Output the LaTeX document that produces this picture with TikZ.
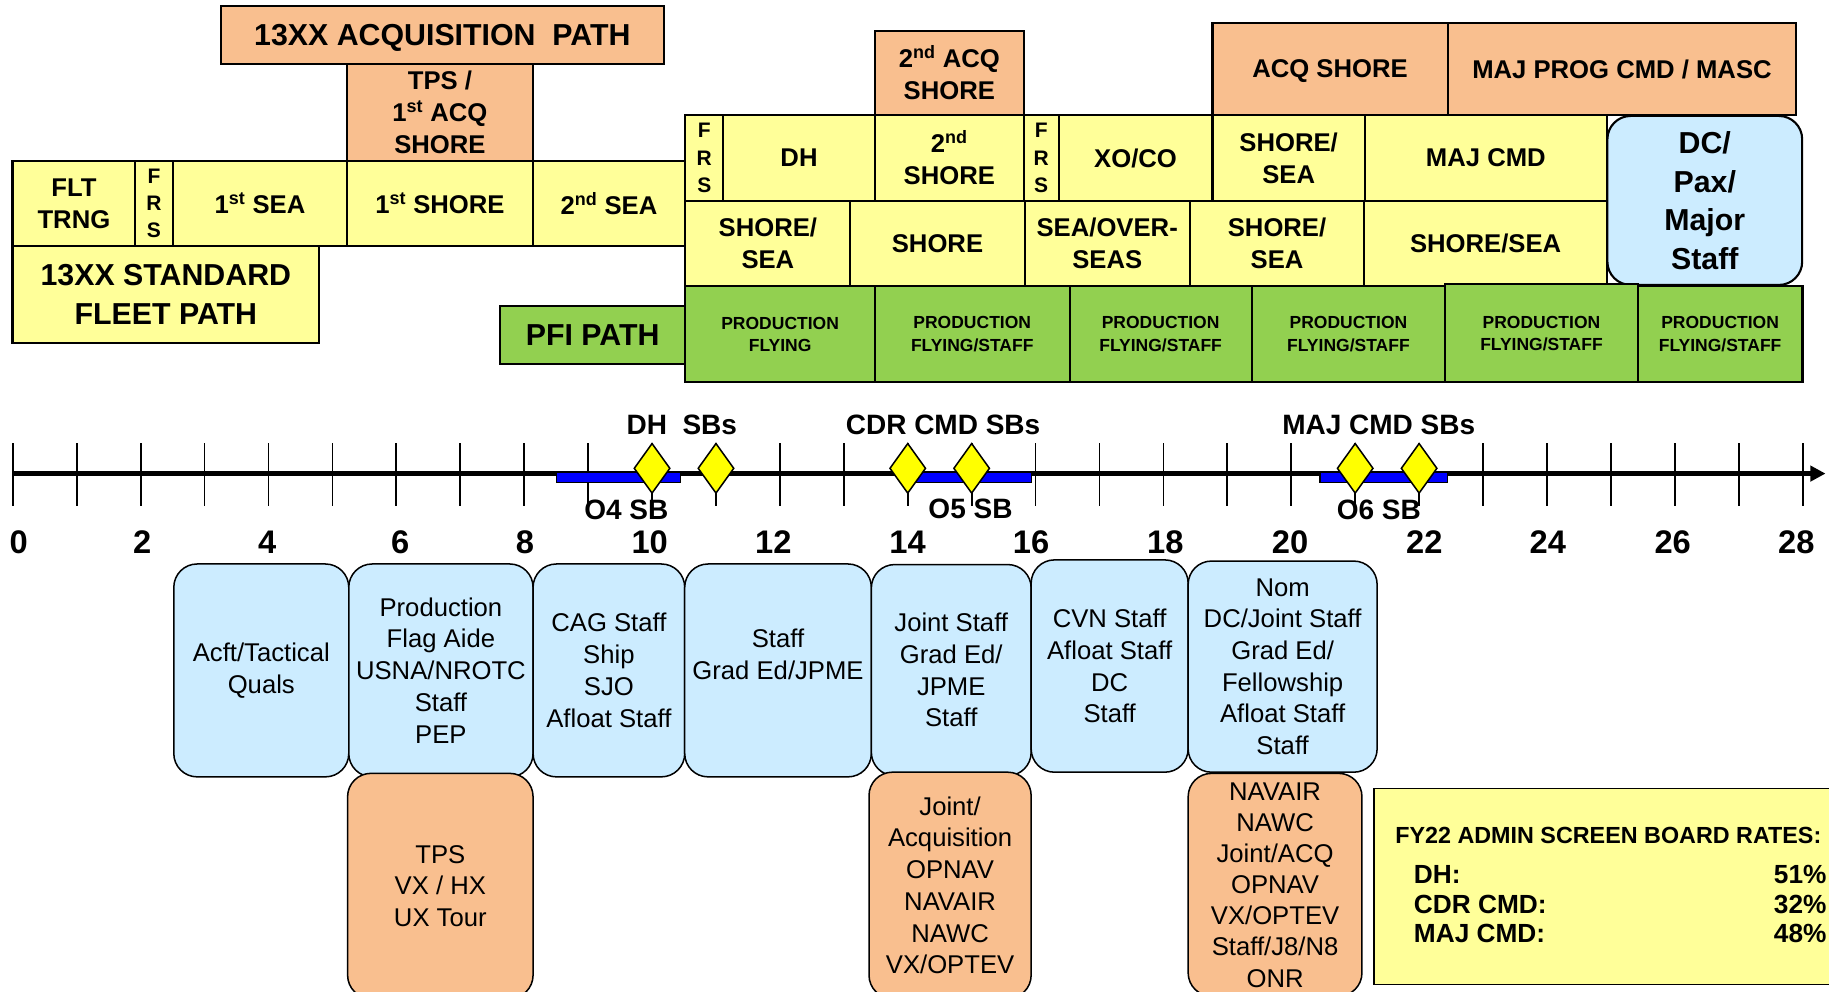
\documentclass[tikz,border=0pt]{standalone}
\usepackage{fontspec}
\setmainfont{Liberation Sans}
\usetikzlibrary{shapes.geometric,arrows.meta}
\definecolor{cyel}{HTML}{FFFF99}
\definecolor{corg}{HTML}{F9BF8F}
\definecolor{cgrn}{HTML}{92D050}
\definecolor{cblu}{HTML}{CCECFF}
\definecolor{cdia}{HTML}{FFFF00}
\definecolor{cbar}{HTML}{0000FF}
\newcommand\fs[2]{\fontsize{#1}{#2}\selectfont}
\newcommand\mkbox[7]{\node[#2,minimum width={#5pt-#3pt},minimum height={#6pt-#4pt}] (#1) at ({(#3+#5)/2},{(#4+#6)/2}) {#7};}
\newcommand\sups[1]{\textsuperscript{#1}}
\begin{document}
\begin{tikzpicture}[x=1pt,y=-1pt,
 cell/.style={draw=black,line width=1.8pt,inner sep=0pt,outer sep=0pt,align=center,font=\bfseries\fs{22}{27.5}},
 ylw/.style={cell,fill=cyel},
 org/.style={cell,fill=corg},
 grn/.style={cell,fill=cgrn,font=\bfseries\fs{15}{19}},
 frs/.style={ylw,font=\bfseries\fs{18}{23.5}},
 big/.style={font=\bfseries\fs{26}{33}},
 rbox/.style={draw=black,line width=1.3pt,rounded corners=20pt,inner sep=0pt,outer sep=0pt,align=center,font=\fs{22}{27.2}},
 bluebox/.style={rbox,fill=cblu},
 orgbox/.style={rbox,fill=corg},
 tickline/.style={line width=1.5pt},
 axisline/.style={line width=4.5pt,-{Triangle[length=13pt,width=13pt]}},
 sbbar/.style={draw=black,line width=1pt,fill=cbar},
 sbdia/.style={diamond,draw=black,line width=1.3pt,fill=cdia,minimum width=31pt,minimum height=43pt,inner sep=0pt},
 tl/.style={font=\bfseries\fs{24}{28},inner sep=0pt},
 yr/.style={font=\bfseries\fs{28}{32},inner sep=0pt},
 ftxt/.style={inner sep=0pt,anchor=west,font=\bfseries\fs{22.5}{26}},
]
\useasboundingbox (0,0) rectangle (1568,850);
% ---------- left upper block ----------
\mkbox{flt}{ylw}{10.7}{137.8}{116}{210.9}{FLT\\TRNG}
\mkbox{frsa}{frs}{116}{137.8}{148}{210.9}{F\\R\\S}
\mkbox{seaa}{ylw}{148}{137.8}{297.7}{210.9}{1\sups{st} SEA}
\mkbox{shorea}{ylw}{297.7}{137.8}{456.6}{210.9}{1\sups{st} SHORE}
\mkbox{seab}{ylw}{456.6}{137.8}{587.5}{210.9}{2\sups{nd} SEA}
\mkbox{std}{ylw,big}{10.7}{210.9}{273.6}{293.8}{13XX STANDARD\\FLEET PATH}
\mkbox{acqpath}{org,big,text depth=0pt}{189.5}{5.1}{569}{55}{13XX ACQUISITION\ \ PATH}
\mkbox{tps}{org}{297.7}{55}{456.6}{137.8}{TPS /\\1\sups{st} ACQ\\SHORE}
\mkbox{pfi}{grn,big}{428.6}{262.3}{587.5}{312}{PFI PATH}
% ---------- row B ----------
\mkbox{frsb}{frs}{587.6}{98.6}{620}{172.3}{F\\R\\S}
\mkbox{dh}{ylw}{620}{98.6}{750}{172.3}{DH}
\mkbox{shoreb}{ylw}{750}{98.6}{877.7}{172.3}{2\sups{nd}\\SHORE}
\mkbox{frsc}{frs}{877.7}{98.6}{907.5}{172.3}{F\\R\\S}
\mkbox{xoco}{ylw}{907.5}{98.6}{1039.5}{172.3}{XO/CO}
\mkbox{ssa}{ylw}{1039.5}{98.6}{1170}{172.3}{SHORE/\\SEA}
\mkbox{majcmd}{ylw}{1170}{98.6}{1377.6}{172.3}{MAJ CMD}
\mkbox{acqb}{org}{750}{26.6}{877.7}{98.6}{2\sups{nd} ACQ\\SHORE}
\mkbox{acqshore}{org,text depth=0pt}{1039.5}{19.4}{1241}{98.6}{ACQ SHORE}
\mkbox{masc}{org,text depth=0pt}{1241}{19.4}{1540}{98.6}{MAJ PROG CMD / MASC}
% ---------- row C ----------
\mkbox{ssb}{ylw}{587.6}{172.3}{729}{245}{SHORE/\\SEA}
\mkbox{shorec}{ylw}{729}{172.3}{878.4}{245}{SHORE}
\mkbox{seaover}{ylw}{878.4}{172.3}{1020}{245}{SEA/OVER-\\SEAS}
\mkbox{ssc}{ylw}{1020}{172.3}{1169.6}{245}{SHORE/\\SEA}
\mkbox{ssd}{ylw}{1169.6}{172.3}{1377.6}{245}{SHORE/SEA}
\mkbox{dc}{bluebox,big,line width=1.8pt}{1378}{99.4}{1545}{244.3}{DC/\\Pax/\\Major\\Staff}
% ---------- row D ----------
\mkbox{pa}{grn}{587.6}{245}{750}{327.8}{PRODUCTION\\FLYING}
\mkbox{pb}{grn}{750}{245}{917}{327.8}{PRODUCTION\\FLYING/STAFF}
\mkbox{pc}{grn}{917}{245}{1073}{327.8}{PRODUCTION\\FLYING/STAFF}
\mkbox{pd}{grn}{1073}{245}{1239}{327.8}{PRODUCTION\\FLYING/STAFF}
\mkbox{pe}{grn}{1239}{243.5}{1404}{327.8}{PRODUCTION\\FLYING/STAFF}
\mkbox{pf}{grn}{1404}{245}{1545.3}{327.8}{PRODUCTION\\FLYING/STAFF}
% ---------- timeline ----------
\foreach \n in {0,...,28}{\draw[tickline] ({11+54.8*\n},380) -- ({11+54.8*\n},434);}
\coordinate (ax0) at (11,406);
\coordinate (ax1) at (1565,406);
\draw[axisline] (ax0) -- (ax1);
\draw[sbbar] ({11+54.8*8.5},405) rectangle ({11+54.8*10.45},414);
\draw[sbbar] ({11+54.8*13.95},405) rectangle ({11+54.8*15.93},414);
\draw[sbbar] ({11+54.8*20.45},405) rectangle ({11+54.8*22.45},414);
\foreach \n/\nm in {10/da,11/db,14/dc1,15/dd,21/de,22/df}{\node[sbdia] (\nm) at ({11+54.8*\n},401.5) {};}
\node[tl] (tdh) at (584.5,364) {DH\ \ SBs};
\node[tl] (tcdr) at (808.5,364) {CDR CMD SBs};
\node[tl] (tmaj) at (1182,364) {MAJ CMD SBs};
\node[tl] (to4) at (537,437) {O4 SB};
\node[tl] (to5) at (832,436) {O5 SB};
\node[tl] (to6) at (1182,437) {O6 SB};
\foreach \x/\lab in {16/0,122/2,229/4,343/6,450/8,557/10,663/12,778/14,884/16,999/18,1106/20,1221/22,1327/24,1434/26,1540/28}{\node[yr] (y\lab) at (\x,464.7) {\lab};}
% ---------- lower boxes ----------
\mkbox{acft}{bluebox}{149}{483.5}{299}{666}{Acft/Tactical\\Quals}
\mkbox{prod}{bluebox}{299}{483.5}{457}{666}{Production\\Flag Aide\\USNA/NROTC\\Staff\\PEP}
\mkbox{cag}{bluebox}{457}{483.5}{587}{666}{CAG Staff\\Ship\\SJO\\Afloat Staff}
\mkbox{staff}{bluebox}{587}{483.5}{747}{666}{Staff\\Grad Ed/JPME\\~}
\mkbox{joint}{bluebox}{747}{484}{884}{665}{Joint Staff\\Grad Ed/\\JPME\\Staff}
\mkbox{cvn}{bluebox}{884}{480}{1018.6}{662}{CVN Staff\\Afloat Staff\\DC\\Staff}
\mkbox{nom}{bluebox}{1018.6}{481}{1180.6}{662}{Nom\\DC/Joint Staff\\Grad Ed/\\Fellowship\\Afloat Staff\\Staff}
\mkbox{tpsb}{orgbox}{298}{663}{457}{856}{TPS\\VX / HX\\UX Tour}
\mkbox{jacq}{orgbox}{745}{662}{884}{856}{Joint/\\Acquisition\\OPNAV\\NAVAIR\\NAWC\\VX/OPTEV}
\mkbox{navair}{orgbox,font=\fs{22}{26.7},text depth=0pt}{1018.6}{663}{1167.6}{854}{NAVAIR\\NAWC\\Joint/ACQ\\OPNAV\\VX/OPTEV\\Staff/J8/N8\\ONR}
% ---------- rates box ----------
\mkbox{fy}{cell,fill=cyel,line width=1.5pt}{1178}{676}{1620}{844}{}
\node[ftxt,font=\bfseries\fs{20}{24}] (fyt) at (1196,716) {FY22 ADMIN SCREEN BOARD RATES:};
\node[ftxt] (fya) at (1212,750) {DH:};
\node[ftxt] (fyb) at (1212,775) {CDR CMD:};
\node[ftxt] (fyc) at (1212,800) {MAJ CMD:};
\node[ftxt,anchor=east] (fyav) at (1566,750) {51\%};
\node[ftxt,anchor=east] (fybv) at (1566,775) {32\%};
\node[ftxt,anchor=east] (fycv) at (1566,800) {48\%};
\end{tikzpicture}
\end{document}
